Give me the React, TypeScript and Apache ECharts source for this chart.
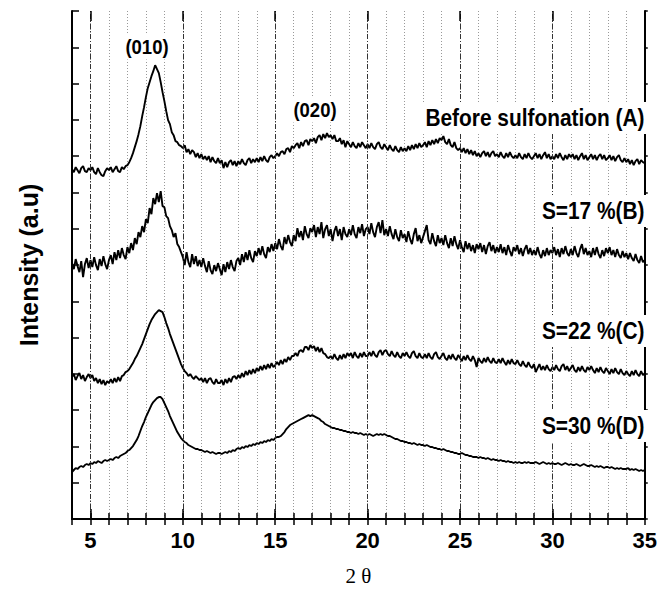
import React, { useEffect, useRef } from "react";
import * as echarts from "echarts";

// 2θ sampling of the scans (degrees)
const START = 4;
const STEP = 0.1;

// Intensities (a.u.), one value per 0.1° from 4° to 35°
const seriesA = [
  350, 347, 352, 349, 346, 351, 353, 348, 347, 351,
  349, 352, 347, 345, 351, 347, 344, 343, 348, 351,
  349, 352, 347, 350, 353, 348, 347, 352, 350, 353,
  354, 357, 361, 366, 372, 378, 385, 393, 403, 412,
  422, 431, 437, 443, 448, 454, 450, 446, 437, 427,
  418, 408, 399, 395, 387, 384, 378, 377, 374, 373,
  371, 374, 367, 370, 365, 369, 367, 362, 366, 361,
  365, 360, 363, 359, 363, 357, 362, 358, 356, 361,
  356, 359, 351, 357, 352, 357, 359, 354, 358, 353,
  358, 355, 360, 356, 354, 359, 361, 356, 360, 357,
  361, 357, 362, 358, 363, 359, 357, 362, 364, 361,
  363, 366, 363, 367, 368, 365, 370, 371, 367, 373,
  371, 374, 376, 371, 377, 373, 378, 379, 374, 380,
  378, 381, 376, 382, 384, 379, 385, 381, 386, 382,
  384, 380, 384, 378, 378, 381, 375, 379, 372, 378,
  375, 372, 377, 373, 371, 376, 372, 377, 374, 371,
  375, 371, 376, 372, 370, 375, 377, 372, 370, 375,
  372, 369, 374, 370, 368, 373, 369, 367, 372, 368,
  371, 368, 373, 369, 374, 370, 375, 371, 376, 372,
  374, 377, 372, 378, 374, 379, 375, 380, 376, 381,
  379, 383, 377, 375, 380, 374, 372, 377, 371, 369,
  371, 367, 371, 366, 370, 365, 369, 364, 368, 363,
  366, 362, 366, 368, 363, 367, 362, 366, 368, 363,
  365, 362, 367, 363, 361, 366, 362, 367, 363, 361,
  364, 361, 366, 362, 360, 365, 361, 366, 362, 360,
  363, 366, 361, 365, 360, 364, 367, 361, 365, 360,
  363, 360, 365, 361, 366, 362, 359, 364, 360, 365,
  362, 365, 360, 364, 359, 363, 366, 360, 364, 359,
  362, 365, 360, 364, 359, 363, 365, 360, 364, 359,
  361, 364, 359, 363, 358, 362, 364, 359, 357, 361,
  357, 360, 355, 359, 354, 358, 360, 355, 359, 357,
  356,
];

const seriesB = [
  256, 250, 260, 253, 247, 258, 242, 255, 261, 251,
  259, 252, 262, 254, 249, 260, 253, 263, 255, 250,
  259, 264, 255, 267, 259, 269, 261, 271, 264, 260,
  272, 266, 276, 269, 281, 275, 287, 282, 293, 287,
  300, 296, 311, 305, 321, 315, 326, 317, 328, 313,
  312, 303, 301, 293, 289, 282, 286, 275, 272, 267,
  262, 254, 267, 257, 252, 265, 255, 263, 253, 259,
  252, 261, 253, 247, 258, 249, 245, 254, 248, 256,
  250, 244, 255, 247, 257, 250, 259, 252, 248, 258,
  261, 254, 265, 257, 267, 259, 269, 261, 257, 268,
  263, 271, 264, 273, 265, 261, 272, 267, 275, 268,
  276, 270, 280, 273, 269, 282, 275, 284, 277, 273,
  284, 278, 291, 282, 288, 279, 293, 285, 281, 291,
  287, 294, 282, 292, 285, 297, 281, 290, 294, 283,
  290, 278, 288, 293, 283, 290, 279, 292, 285, 282,
  290, 284, 294, 285, 281, 292, 286, 295, 283, 290,
  292, 285, 296, 287, 282, 292, 297, 286, 299, 284,
  290, 283, 293, 285, 280, 290, 282, 278, 289, 281,
  285, 277, 288, 280, 275, 285, 291, 278, 284, 276,
  282, 288, 294, 279, 275, 286, 278, 273, 284, 276,
  281, 274, 284, 276, 271, 281, 273, 283, 275, 270,
  279, 272, 267, 278, 270, 276, 268, 274, 266, 275,
  270, 276, 267, 274, 265, 273, 277, 268, 274, 266,
  272, 267, 275, 266, 272, 264, 274, 268, 263, 272,
  268, 274, 265, 271, 263, 270, 274, 265, 271, 264,
  269, 264, 272, 265, 261, 269, 263, 271, 264, 269,
  266, 272, 264, 270, 262, 271, 265, 273, 266, 263,
  270, 264, 273, 266, 262, 270, 275, 265, 271, 264,
  268, 262, 271, 264, 272, 265, 261, 269, 263, 271,
  266, 272, 264, 269, 262, 270, 264, 261, 268, 262,
  266, 260, 266, 261, 258, 265, 259, 256, 263, 257,
  259,
];

const seriesC = [
  142, 145, 139, 143, 146, 140, 144, 138, 142, 145,
  141, 144, 138, 141, 136, 140, 135, 139, 134, 138,
  136, 140, 136, 141, 137, 142, 138, 143, 144, 147,
  148, 150, 153, 156, 160, 163, 167, 171, 175, 180,
  185, 190, 195, 199, 202, 205, 207, 209, 208, 207,
  202, 196, 191, 185, 180, 175, 170, 165, 160, 155,
  151, 148, 146, 143, 145, 142, 140, 143, 141, 139,
  141, 137, 141, 136, 140, 141, 137, 135, 140, 136,
  136, 139, 134, 140, 136, 141, 137, 142, 143, 140,
  144, 141, 146, 142, 148, 144, 149, 145, 150, 146,
  151, 148, 153, 149, 154, 150, 155, 151, 156, 152,
  154, 157, 154, 159, 155, 160, 157, 162, 159, 163,
  163, 166, 163, 168, 169, 167, 172, 172, 169, 174,
  171, 173, 168, 172, 167, 171, 166, 165, 162, 161,
  163, 160, 165, 161, 159, 164, 160, 165, 161, 166,
  163, 166, 161, 167, 163, 161, 166, 162, 167, 163,
  163, 167, 163, 168, 164, 162, 167, 169, 164, 168,
  169, 165, 163, 168, 164, 162, 167, 163, 161, 166,
  163, 167, 163, 161, 166, 168, 163, 161, 166, 162,
  161, 165, 161, 166, 162, 160, 165, 167, 162, 160,
  163, 166, 161, 159, 164, 160, 165, 161, 159, 164,
  161, 158, 163, 159, 164, 160, 158, 163, 159, 152,
  161, 158, 156, 161, 157, 162, 158, 156, 161, 157,
  156, 160, 156, 161, 157, 154, 159, 155, 160, 156,
  155, 159, 155, 153, 158, 154, 152, 157, 153, 151,
  155, 147, 151, 155, 149, 153, 149, 154, 150, 148,
  152, 149, 154, 150, 148, 153, 155, 149, 153, 148,
  151, 154, 149, 147, 152, 148, 153, 149, 147, 152,
  149, 153, 149, 146, 151, 147, 152, 148, 146, 151,
  148, 145, 150, 146, 151, 147, 145, 150, 146, 144,
  148, 145, 143, 148, 144, 149, 145, 143, 148, 144,
  146,
];

const seriesD = [
  47, 49, 51, 50, 52, 53, 52, 54, 55, 54,
  56, 55, 57, 56, 58, 57, 56, 58, 59, 58,
  59, 60, 59, 61, 62, 61, 63, 64, 65, 66,
  68, 69, 71, 73, 76, 79, 83, 88, 93, 97,
  102, 106, 110, 114, 117, 119, 121, 122, 122, 120,
  116, 112, 108, 103, 99, 95, 91, 87, 84, 81,
  79, 77, 76, 74, 73, 72, 71, 70, 70, 69,
  69, 68, 67, 68, 67, 66, 67, 66, 65, 66,
  66, 65, 66, 67, 66, 68, 67, 69, 68, 70,
  71, 70, 72, 71, 73, 72, 74, 73, 75, 74,
  76, 75, 77, 76, 78, 77, 79, 78, 80, 79,
  81, 82, 82, 83, 85, 87, 90, 92, 94, 95,
  96, 97, 98, 99, 100, 101, 102, 103, 104, 103,
  104, 103, 102, 101, 100, 98, 97, 95, 94, 93,
  92, 91, 91, 90, 90, 89, 89, 88, 88, 87,
  87, 86, 87, 86, 86, 85, 86, 85, 84, 85,
  84, 85, 84, 83, 84, 85, 84, 85, 84, 85,
  84, 83, 83, 82, 81, 80, 80, 79, 78, 78,
  77, 77, 76, 76, 75, 76, 75, 74, 75, 74,
  74, 73, 74, 73, 72, 72, 71, 71, 70, 70,
  69, 70, 69, 68, 68, 67, 67, 66, 66, 65,
  65, 66, 65, 64, 64, 63, 63, 62, 62, 62,
  61, 62, 61, 61, 60, 61, 60, 59, 60, 59,
  59, 58, 59, 58, 58, 57, 58, 57, 57, 56,
  57, 56, 57, 56, 56, 57, 56, 57, 56, 56,
  56, 57, 56, 55, 56, 57, 56, 55, 56, 55,
  56, 55, 55, 56, 55, 54, 55, 56, 55, 54,
  55, 54, 54, 55, 54, 53, 54, 55, 54, 53,
  53, 54, 53, 52, 53, 52, 53, 52, 51, 52,
  52, 51, 52, 51, 50, 51, 50, 51, 50, 50,
  50, 51, 49, 50, 49, 50, 49, 48, 49, 48,
  49,
];

const SERIES_NAMES = ["Before sulfonation (A)", "S=17 %(B)", "S=22 %(C)", "S=30 %(D)"];
const PEAK_LABELS = ["(010)", "(020)"];
const X_MIN = 4;
const X_MAX = 35;
const MAJOR_TICKS = [5, 10, 15, 20, 25, 30, 35];
const DASH_LINES = [5, 10, 15, 20, 25, 30];
const Y_MAX = 508.2;
const Y_STEP = 36.3;

const toPairs = (vals: number[]) =>
  vals.map((v, i) => [Number((START + i * STEP).toFixed(1)), v]);

const SANS = '"Liberation Sans", Arial, Helvetica, sans-serif';

export default function App() {
  const ref = useRef<HTMLDivElement>(null);

  useEffect(() => {
    document.body.style.margin = "0";
    const chart = echarts.init(ref.current!, null, { renderer: "svg" });

    const tickStyle = { color: "#000", width: 1.5, type: "solid" as const };
    const markData: any[] = [
      ...DASH_LINES.map((v) => ({
        xAxis: v,
        lineStyle: { color: "#333", width: 1, type: [5, 2, 1, 2] },
      })),
      ...MAJOR_TICKS.flatMap((v) => [
        [{ coord: [v, 0], lineStyle: tickStyle }, { coord: [v, 10] }],
        [{ coord: [v, Y_MAX - 10], lineStyle: tickStyle }, { coord: [v, Y_MAX] }],
      ]),
    ];

    const allData = [seriesA, seriesB, seriesC, seriesD];

    const series: any[] = allData.map((d, i) => ({
      type: "line",
      name: SERIES_NAMES[i],
      data: toPairs(d),
      showSymbol: false,
      symbol: "none",
      lineStyle: { color: "#000", width: 1.9 },
      itemStyle: { color: "#000" },
      z: 3,
      ...(i === 3
        ? {
            markLine: {
              silent: true,
              symbol: ["none", "none"],
              label: { show: false },
              animation: false,
              data: markData,
            },
          }
        : {}),
    }));

    const sideLabel = (text: string, y: number) => ({
      type: "text",
      x: 648,
      y,
      scaleX: 0.87,
      z: 100,
      style: {
        text,
        x: 0,
        y: 0,
        fill: "#000",
        fontSize: 24,
        fontWeight: "bold",
        fontFamily: SANS,
        align: "right",
        textAlign: "right",
        verticalAlign: "middle",
        textVerticalAlign: "middle",
        backgroundColor: "#fff",
        padding: [4, 4, 4, 3],
      },
    });

    const peakLabel = (text: string, x: number, y: number) => ({
      type: "text",
      x,
      y,
      scaleX: 0.88,
      z: 100,
      style: {
        text,
        x: 0,
        y: 0,
        fill: "#000",
        fontSize: 21,
        fontWeight: "bold",
        fontFamily: SANS,
        align: "center",
        textAlign: "center",
        verticalAlign: "middle",
        textVerticalAlign: "middle",
        backgroundColor: "#fff",
        padding: [2, 2, 2, 2],
      },
    });

    const option: any = {
      animation: false,
      backgroundColor: "#fff",
      grid: { left: 72, right: 14, top: 11, bottom: 76, containLabel: false },
      xAxis: [
        {
          type: "value",
          min: X_MIN,
          max: X_MAX,
          interval: 1,
          position: "bottom",
          axisLine: { show: true, lineStyle: { color: "#000", width: 2 } },
          axisTick: { show: true, inside: true, length: 6, lineStyle: { color: "#000", width: 1.5 } },
          axisLabel: {
            formatter: (v: number) => (v % 5 === 0 ? String(v) : ""),
            fontSize: 22,
            fontWeight: "bold",
            fontFamily: SANS,
            color: "#000",
            margin: 10,
          },
          splitLine: { show: true, lineStyle: { color: "#999", width: 1, type: [1, 2] } },
          name: "2 θ",
          nameLocation: "middle",
          nameGap: 46,
          nameTextStyle: {
            fontSize: 21,
            fontFamily: '"Liberation Serif", "Times New Roman", serif',
            color: "#000",
          },
        },
        {
          type: "value",
          min: X_MIN,
          max: X_MAX,
          interval: 1,
          position: "top",
          axisLine: { show: true, lineStyle: { color: "#000", width: 2 } },
          axisTick: { show: true, inside: true, length: 6, lineStyle: { color: "#000", width: 1.5 } },
          axisLabel: { show: false },
          splitLine: { show: false },
        },
      ],
      yAxis: [
        {
          type: "value",
          min: 0,
          max: Y_MAX,
          interval: Y_STEP,
          position: "left",
          axisLine: { show: true, lineStyle: { color: "#000", width: 2 } },
          axisTick: { show: true, inside: true, length: 7, lineStyle: { color: "#000", width: 1.5 } },
          axisLabel: { show: false },
          splitLine: { show: false },
          name: "Intensity (a.u)",
          nameLocation: "middle",
          nameRotate: 90,
          nameGap: 31,
          nameTextStyle: { fontSize: 25, fontWeight: "bold", fontFamily: SANS, color: "#000" },
        },
        {
          type: "value",
          min: 0,
          max: Y_MAX,
          interval: Y_STEP,
          position: "right",
          axisLine: { show: true, lineStyle: { color: "#000", width: 2 } },
          axisTick: { show: true, inside: false, length: 3, lineStyle: { color: "#000", width: 1.5 } },
          axisLabel: { show: false },
          splitLine: { show: false },
        },
      ],
      series,
      graphic: [
        peakLabel(PEAK_LABELS[0], 147, 47),
        peakLabel(PEAK_LABELS[1], 315, 110),
        sideLabel(SERIES_NAMES[0], 118),
        sideLabel(SERIES_NAMES[1], 211),
        sideLabel(SERIES_NAMES[2], 331),
        sideLabel(SERIES_NAMES[3], 426),
      ],
    };

    chart.setOption(option);
    return () => chart.dispose();
  }, []);

  return <div ref={ref} style={{ width: 660, height: 595 }} />;
}
